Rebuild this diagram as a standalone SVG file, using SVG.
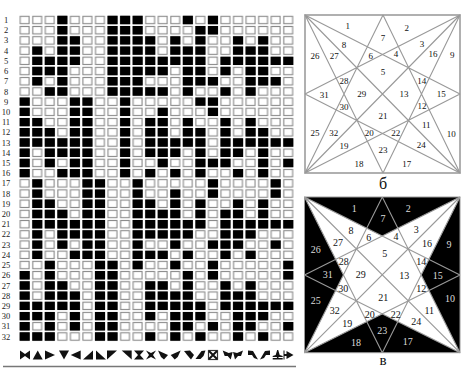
<svg xmlns="http://www.w3.org/2000/svg" width="469" height="371" viewBox="0 0 469 371">
<style>
text{font-family:"Liberation Serif","Times New Roman",serif;text-anchor:middle;fill:#111}
.rn text{font-size:8.5px;fill:#222}
.lb text{font-size:9px;font-weight:400}
.lc text{font-size:10px}
.lc .d{fill:#ddd}
.sy polygon{fill:#111}
.ln{fill:none;stroke:#999;stroke-width:1.1}
.bd{fill:none;stroke:#a8a8a8;stroke-width:1.8}
</style>
<defs>
<pattern id="cell" patternUnits="userSpaceOnUse" x="18.4" y="14.9" width="12.55" height="10.21">
<rect x="1.8" y="1.4" width="8.9" height="7.4" fill="#fff" stroke="#8a8a8a" stroke-width="1.1"/>
</pattern>
</defs>
<rect width="469" height="371" fill="#fff"/>
<g id="grid">
<rect x="18.4" y="14.9" width="276.1" height="326.7" fill="url(#cell)"/>
<path transform="translate(19.7,20) scale(12.55,10.21)" fill="none" stroke="#000" stroke-width=".82" d="M3 0h.8M7 0h.8M8 0h.8M9 0h.8M13 0h.8M15 0h.8
M3 1h.8M7 1h.8M8 1h.8M9 1h.8M14 1h.8M15 1h.8
M3 2h.8M4 2h.8M7 2h.8M8 2h.8M9 2h.8M10 2h.8M12 2h.8M14 2h.8M17 2h.8M19 2h.8
M1 3h.8M3 3h.8M4 3h.8M7 3h.8M8 3h.8M9 3h.8M10 3h.8M12 3h.8M13 3h.8M14 3h.8M17 3h.8M18 3h.8M19 3h.8
M1 4h.8M2 4h.8M3 4h.8M4 4h.8M7 4h.8M8 4h.8M9 4h.8M10 4h.8M11 4h.8M12 4h.8M13 4h.8M14 4h.8M16 4h.8M17 4h.8M18 4h.8M19 4h.8M20 4h.8M21 4h.8
M1 5h.8M2 5h.8M3 5h.8M7 5h.8M8 5h.8M9 5h.8M10 5h.8M11 5h.8M13 5h.8M14 5h.8M16 5h.8M18 5h.8M19 5h.8
M1 6h.8M3 6h.8M7 6h.8M8 6h.8M9 6h.8M13 6h.8M14 6h.8M15 6h.8M18 6h.8M19 6h.8M20 6h.8
M2 7h.8M3 7h.8M7 7h.8M8 7h.8M9 7h.8M10 7h.8M11 7h.8M13 7h.8M16 7h.8M18 7h.8
M0 8h.8M4 8h.8M5 8h.8M8 8h.8M14 8h.8M15 8h.8
M0 9h.8M4 9h.8M5 9h.8M8 9h.8M11 9h.8M15 9h.8
M0 10h.8M1 10h.8M4 10h.8M5 10h.8M8 10h.8M10 10h.8M11 10h.8M13 10h.8M16 10h.8M18 10h.8
M0 11h.8M1 11h.8M2 11h.8M4 11h.8M5 11h.8M8 11h.8M10 11h.8M11 11h.8M13 11h.8M14 11h.8M16 11h.8M18 11h.8M19 11h.8
M0 12h.8M1 12h.8M2 12h.8M3 12h.8M4 12h.8M5 12h.8M8 12h.8M10 12h.8M11 12h.8M12 12h.8M13 12h.8M14 12h.8M16 12h.8M17 12h.8M18 12h.8M19 12h.8M20 12h.8M21 12h.8
M0 13h.8M2 13h.8M3 13h.8M4 13h.8M5 13h.8M8 13h.8M10 13h.8M11 13h.8M12 13h.8M14 13h.8M16 13h.8M17 13h.8M19 13h.8
M0 14h.8M2 14h.8M4 14h.8M5 14h.8M8 14h.8M11 14h.8M14 14h.8M15 14h.8M16 14h.8M19 14h.8M21 14h.8
M0 15h.8M3 15h.8M4 15h.8M5 15h.8M8 15h.8M10 15h.8M12 15h.8M14 15h.8M17 15h.8M19 15h.8
M1 16h.8M5 16h.8M6 16h.8M9 16h.8M15 16h.8M20 16h.8
M1 17h.8M5 17h.8M6 17h.8M9 17h.8M12 17h.8M15 17h.8M20 17h.8
M1 18h.8M2 18h.8M5 18h.8M6 18h.8M9 18h.8M10 18h.8M12 18h.8M14 18h.8M17 18h.8M19 18h.8
M1 19h.8M2 19h.8M3 19h.8M5 19h.8M6 19h.8M9 19h.8M10 19h.8M11 19h.8M12 19h.8M14 19h.8M16 19h.8M17 19h.8M19 19h.8
M1 20h.8M2 20h.8M3 20h.8M4 20h.8M5 20h.8M6 20h.8M9 20h.8M10 20h.8M11 20h.8M12 20h.8M13 20h.8M14 20h.8M16 20h.8M17 20h.8M18 20h.8M19 20h.8M20 20h.8M21 20h.8
M1 21h.8M3 21h.8M4 21h.8M5 21h.8M6 21h.8M9 21h.8M10 21h.8M11 21h.8M12 21h.8M13 21h.8M16 21h.8M17 21h.8M18 21h.8
M1 22h.8M3 22h.8M5 22h.8M6 22h.8M9 22h.8M12 22h.8M15 22h.8M16 22h.8M17 22h.8M20 22h.8
M1 23h.8M4 23h.8M5 23h.8M6 23h.8M9 23h.8M10 23h.8M11 23h.8M13 23h.8M16 23h.8M18 23h.8
M2 24h.8M6 24h.8M7 24h.8M9 24h.8M12 24h.8M15 24h.8M21 24h.8
M0 25h.8M2 25h.8M6 25h.8M7 25h.8M13 25h.8M15 25h.8M21 25h.8
M0 26h.8M2 26h.8M3 26h.8M6 26h.8M7 26h.8M10 26h.8M11 26h.8M13 26h.8M16 26h.8M18 26h.8
M0 27h.8M2 27h.8M3 27h.8M4 27h.8M6 27h.8M7 27h.8M10 27h.8M11 27h.8M12 27h.8M13 27h.8M16 27h.8M17 27h.8M18 27h.8
M0 28h.8M1 28h.8M2 28h.8M3 28h.8M4 28h.8M6 28h.8M7 28h.8M10 28h.8M11 28h.8M12 28h.8M13 28h.8M14 28h.8M16 28h.8M17 28h.8M18 28h.8M19 28h.8M20 28h.8M21 28h.8
M0 29h.8M1 29h.8M2 29h.8M4 29h.8M6 29h.8M7 29h.8M10 29h.8M12 29h.8M13 29h.8M14 29h.8M17 29h.8M18 29h.8M19 29h.8
M0 30h.8M2 30h.8M4 30h.8M6 30h.8M7 30h.8M12 30h.8M13 30h.8M15 30h.8M17 30h.8M18 30h.8M21 30h.8
M0 31h.8M1 31h.8M2 31h.8M6 31h.8M7 31h.8M10 31h.8M12 31h.8M14 31h.8M17 31h.8M19 31h.8"/>
</g>
<g id="row-numbers" class="rn">
<text x="6" y="23">1</text><text x="6" y="33.2">2</text><text x="6" y="43.4">3</text><text x="6" y="53.6">4</text><text x="6" y="63.8">5</text><text x="6" y="74">6</text><text x="6" y="84.3">7</text><text x="6" y="94.5">8</text><text x="6" y="104.7">9</text><text x="6" y="114.9">10</text><text x="6" y="125.1">11</text><text x="6" y="135.3">12</text><text x="6" y="145.5">13</text><text x="6" y="155.7">14</text><text x="6" y="165.9">15</text><text x="6" y="176.2">16</text><text x="6" y="186.4">17</text><text x="6" y="196.6">18</text><text x="6" y="206.8">19</text><text x="6" y="217">20</text><text x="6" y="227.2">21</text><text x="6" y="237.4">22</text><text x="6" y="247.6">23</text><text x="6" y="257.8">24</text><text x="6" y="268">25</text><text x="6" y="278.3">26</text><text x="6" y="288.5">27</text><text x="6" y="298.7">28</text><text x="6" y="308.9">29</text><text x="6" y="319.1">30</text><text x="6" y="329.3">31</text><text x="6" y="339.5">32</text>
</g>
<g id="symbols" class="sy">
<polygon transform="translate(25,355)" points="-5,-4.5 0,-1 5,-4.5 5,4.5 0,1 -5,4.5"/>
<polygon transform="translate(37.7,355)" points="-5,4.5 0,-4.5 5,4.5"/>
<polygon transform="translate(50,355)" points="-5,-4.5 5,0 -5,4.5"/>
<polygon transform="translate(64,355)" points="-5,-4.5 5,-4.5 0,4.5"/>
<polygon transform="translate(75.7,355)" points="5,-4.5 -5,0 5,4.5"/>
<polygon transform="translate(88,355)" points="-5,4.5 5,-4.5 5,4.5"/>
<polygon transform="translate(101,355)" points="-5,-4.5 5,4.5 -5,4.5"/>
<polygon transform="translate(112,355)" points="-5,-4.5 5,-4.5 -5,4.5"/>
<polygon transform="translate(126.7,355)" points="-5,-4.5 5,-4.5 5,4.5"/>
<polygon transform="translate(139,355)" points="-5,-4.5 5,-4.5 1,0 5,4.5 -5,4.5 -1,0"/>
<polygon transform="translate(151,355)" points="-5,-4.5 0,-2 5,-4.5 2,0 5,4.5 0,2 -5,4.5 -2,0"/>
<polygon transform="translate(163,355)" points="-5,-4.5 5,0 1,4.5 -2,2"/>
<polygon transform="translate(175.7,355)" points="5,-4.5 2,2 -1,4.5 -5,0"/>
<polygon transform="translate(189,355)" points="-5,-4 1,-4.5 5,0 2,4.5 -1,1"/>
<polygon transform="translate(200.5,355)" points="5,-4.5 1,-4 -5,4 0,4 3,1"/>
<g transform="translate(213,355)"><rect x="-4.5" y="-4.5" width="9" height="9" fill="#fff" stroke="#333" stroke-width="1.2"/><path d="M-4-4L4 4M4-4L-4 4" stroke="#111" stroke-width="2"/></g>
<polygon transform="translate(227.7,355)" points="-5,-4.5 1,-2 5,-3 3,4.5 0,1 -3,1"/>
<polygon transform="translate(238,355)" points="5,-4.5 -1,-2 -5,-3 -3,4.5 0,1 3,1"/>
<polygon transform="translate(253,355)" points="-5,-4.5 0,-4 5,4.5 1,3 -1,0 -5,-0"/>
<polygon transform="translate(265,355)" points="5,-4.5 0,-4 -5,4.5 -1,3 1,0 5,-0"/>
<polygon transform="translate(277.7,355)" points="-.5,-5 .5,-5 2,0 5,1 5,2 .8,2 .8,3 5,3 5,4.5 -5,4.5 -5,3 -.8,3 -.8,2 -5,2 -5,1 -2,0"/>
<polygon transform="translate(288.5,355)" points="-5,-4.5 -4,-4.5 -4,-1 -2,-1 -2,-4 5,0 -2,4 -2,1 -4,1 -4,4.5 -5,4.5"/>
</g>
<path d="M3 366.5H296" stroke="#777" stroke-width="1.5"/>
<g id="star-b">
<rect x="305" y="15" width="155" height="158" fill="#fff" class="bd"/>
<path class="ln" d="M305 15L460 94M305 15L383 173M305 15L460 173M460 15L305 94M460 15L383 173M460 15L305 173M305 173L383 15M305 173L460 94M460 173L383 15M460 173L305 94"/>
<g class="lb">
<text x="347.7" y="29">1</text><text x="406.7" y="31.3">2</text><text x="422" y="47.3">3</text><text x="396" y="57.3">4</text><text x="383" y="74.7">5</text><text x="370.7" y="59">6</text><text x="383" y="40.7">7</text><text x="344" y="48">8</text><text x="452.3" y="58">9</text><text x="451.3" y="137">10</text><text x="426.3" y="128">11</text><text x="422" y="109">12</text><text x="404" y="97">13</text><text x="421.7" y="84">14</text><text x="441.3" y="97">15</text><text x="433" y="57.3">16</text><text x="406.7" y="166.7">17</text><text x="359" y="166.7">18</text><text x="344" y="149">19</text><text x="369.3" y="136.3">20</text><text x="383" y="118.7">21</text><text x="395.7" y="136.3">22</text><text x="383" y="153">23</text><text x="421.3" y="148">24</text><text x="315" y="136.3">25</text><text x="315" y="58.7">26</text><text x="334.3" y="58.7">27</text><text x="344" y="84">28</text><text x="361.7" y="97.3">29</text><text x="344" y="110.3">30</text><text x="324.3" y="97.7">31</text><text x="333.7" y="136.3">32</text>
</g>
<text x="383" y="189" font-size="16">б</text>
</g>
<g id="star-c">
<rect x="304.5" y="197" width="155.5" height="155.7" fill="#000" stroke="#9a9a9a" stroke-width="1"/>
<polygon fill="#fff" points="304.5,197 382.3,236 460,197 421.4,275 460,352.7 382.3,314 304.5,352.7 343.4,275"/>
<path class="ln" d="M304.5 197L460 275M304.5 197L382.3 352.7M304.5 197L460 352.7M460 197L304.5 275M460 197L382.3 352.7M460 197L304.5 352.7M304.5 352.7L382.3 197M304.5 352.7L460 275M460 352.7L382.3 197M460 352.7L304.5 275"/>
<g class="lc">
<text class="d" x="354.3" y="211.5">1</text><text class="d" x="408.3" y="212.2">2</text><text x="416.3" y="233.2">3</text><text x="396" y="239.9">4</text><text x="384.7" y="257.2">5</text><text x="368.7" y="240.5">6</text><text class="d" x="383" y="222.2">7</text><text x="351" y="233.9">8</text><text class="d" x="449" y="248.2">9</text><text class="d" x="450" y="301.5">10</text><text x="429.3" y="314.2">11</text><text x="421.3" y="291.9">12</text><text x="404.3" y="278.9">13</text><text x="421.3" y="265.2">14</text><text class="d" x="437.7" y="278.5">15</text><text x="427" y="246.5">16</text><text class="d" x="407.7" y="344.9">17</text><text class="d" x="356" y="345.9">18</text><text x="347.3" y="326.9">19</text><text x="369.7" y="317.9">20</text><text x="383.3" y="300.5">21</text><text x="395.7" y="318.2">22</text><text class="d" x="382.3" y="333.5">23</text><text x="416.3" y="324.9">24</text><text class="d" x="315.7" y="303.9">25</text><text class="d" x="315.7" y="252.9">26</text><text x="338" y="245.5">27</text><text x="343.7" y="265.2">28</text><text x="360.7" y="278.2">29</text><text x="343.3" y="291.9">30</text><text class="d" x="327.7" y="278.2">31</text><text x="334.7" y="314.2">32</text>
</g>
<text x="383" y="365" font-size="15">в</text>
</g>
</svg>
